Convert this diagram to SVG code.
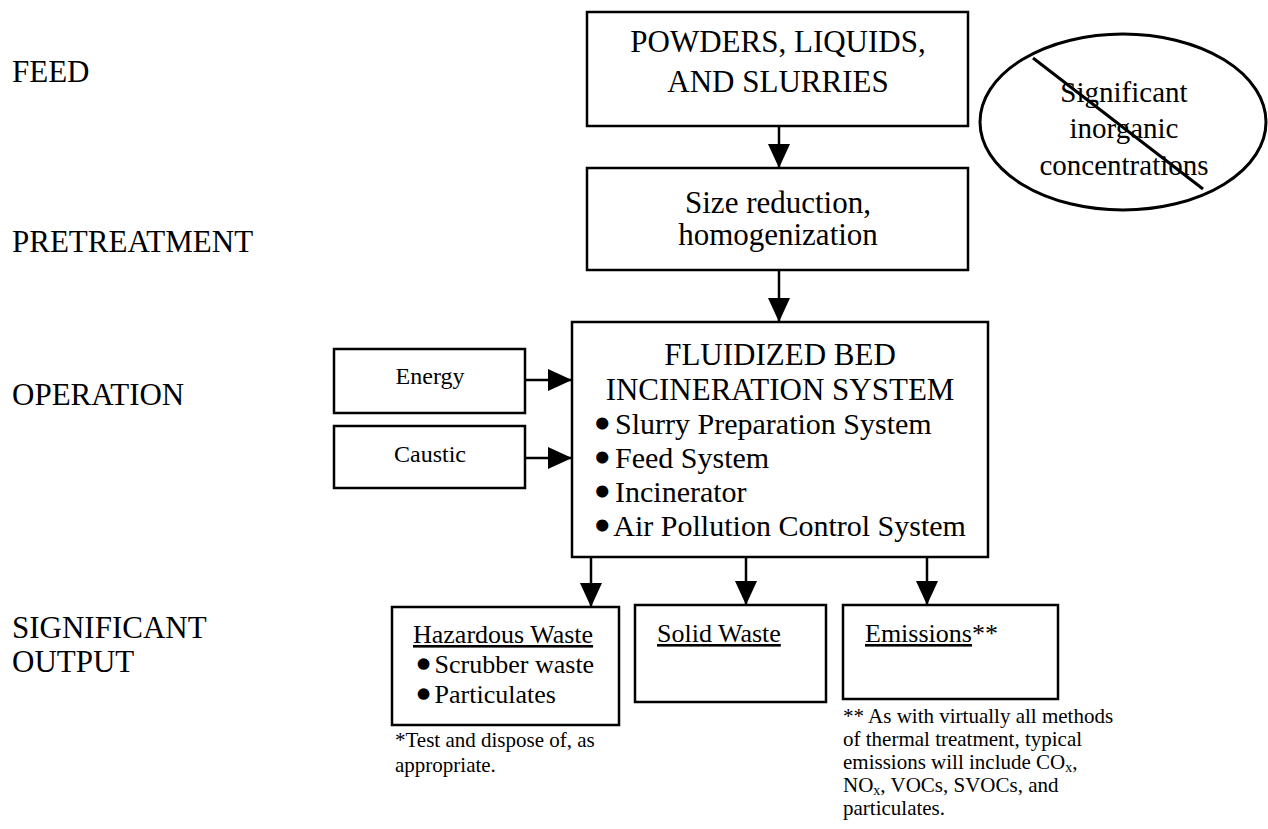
<svg xmlns="http://www.w3.org/2000/svg" width="1268" height="829" viewBox="0 0 1268 829">
  <style>
    text { font-family: "Liberation Serif", "Times New Roman", serif; fill: #000; }
    .lbl { font-size: 31px; }
    .big { font-size: 31px; text-anchor: middle; }
    .oval { font-size: 29px; text-anchor: middle; }
    .item { font-size: 30px; }
    .small { font-size: 24px; text-anchor: middle; }
    .out { font-size: 26px; }
    .note { font-size: 21px; }
    .bul { stroke: #000; stroke-width: 5; stroke-linejoin: round; }
    .bul-s { stroke: #000; stroke-width: 5.5; stroke-linejoin: round; }
    .box { fill: #fff; stroke: #000; stroke-width: 2.5; }
    .wire { fill: none; stroke: #000; stroke-width: 2.5; }
    .u { text-decoration: underline; }
  </style>
  <defs>
    <marker id="arrow" viewBox="0 0 24 22" refX="24" refY="11" markerWidth="24" markerHeight="22" markerUnits="userSpaceOnUse" orient="auto">
      <path d="M0,0 L24,11 L0,22 Z" fill="#000"/>
    </marker>
  </defs>
  <rect width="1268" height="829" fill="#fff"/>

  <!-- stage labels down the left margin -->
  <g id="stage-labels">
    <text class="lbl" x="12" y="82">FEED</text>
    <text class="lbl" x="12" y="252">PRETREATMENT</text>
    <text class="lbl" x="12" y="405">OPERATION</text>
    <text class="lbl" x="12" y="638">SIGNIFICANT</text>
    <text class="lbl" x="12" y="672">OUTPUT</text>
  </g>

  <!-- flow arrows -->
  <g id="connectors">
    <line class="wire" x1="779" y1="126" x2="779" y2="168" marker-end="url(#arrow)"/>
    <line class="wire" x1="779" y1="270" x2="779" y2="322" marker-end="url(#arrow)"/>
    <line class="wire" x1="525" y1="380" x2="572" y2="380" marker-end="url(#arrow)"/>
    <line class="wire" x1="525" y1="458" x2="572" y2="458" marker-end="url(#arrow)"/>
    <line class="wire" x1="591" y1="557" x2="591" y2="607" marker-end="url(#arrow)"/>
    <line class="wire" x1="746" y1="557" x2="746" y2="605" marker-end="url(#arrow)"/>
    <line class="wire" x1="927" y1="557" x2="927" y2="605" marker-end="url(#arrow)"/>
  </g>

  <g id="feed">
    <rect class="box" x="587" y="12" width="381" height="114"/>
    <text class="big" x="778" y="52">POWDERS, LIQUIDS,</text>
    <text class="big" x="778" y="92">AND SLURRIES</text>
  </g>

  <g id="excluded">
    <ellipse cx="1123" cy="122" rx="143" ry="88" fill="none" stroke="#000" stroke-width="3"/>
    <text class="oval" x="1124" y="102">Significant</text>
    <text class="oval" x="1124" y="138">inorganic</text>
    <text class="oval" x="1124" y="175">concentrations</text>
    <line x1="1033" y1="58" x2="1203" y2="189" stroke="#000" stroke-width="3"/>
  </g>

  <g id="pretreatment">
    <rect class="box" x="587" y="168" width="381" height="102"/>
    <text class="big" x="778" y="213">Size reduction,</text>
    <text class="big" x="778" y="245">homogenization</text>
  </g>

  <g id="energy">
    <rect class="box" x="334" y="349" width="191" height="64"/>
    <text class="small" x="430" y="384">Energy</text>
  </g>

  <g id="caustic">
    <rect class="box" x="334" y="426" width="191" height="62"/>
    <text class="small" x="430" y="462">Caustic</text>
  </g>

  <g id="incineration">
    <rect class="box" x="572" y="322" width="416" height="235"/>
    <text class="big" x="780" y="365">FLUIDIZED BED</text>
    <text class="big" x="780" y="400">INCINERATION SYSTEM</text>
    <text class="item" x="597" y="434"><tspan class="bul">•</tspan> Slurry Preparation System</text>
    <text class="item" x="597" y="468"><tspan class="bul">•</tspan> Feed System</text>
    <text class="item" x="597" y="502"><tspan class="bul">•</tspan> Incinerator</text>
    <text class="item" x="597" y="536"><tspan class="bul">•</tspan> Air Pollution Control System</text>
  </g>

  <g id="hazardous-waste">
    <rect class="box" x="392" y="607" width="227" height="118"/>
    <text class="out u" x="413" y="643">Hazardous Waste</text>
    <text class="out" x="419" y="673"><tspan class="bul-s">•</tspan> Scrubber waste</text>
    <text class="out" x="419" y="703"><tspan class="bul-s">•</tspan> Particulates</text>
    <text class="note" x="395" y="747">*Test and dispose of, as</text>
    <text class="note" x="395" y="772">appropriate.</text>
  </g>

  <g id="solid-waste">
    <rect class="box" x="635" y="605" width="191" height="97"/>
    <text class="out u" x="657" y="642">Solid Waste</text>
  </g>

  <g id="emissions">
    <rect class="box" x="843" y="605" width="215" height="94"/>
    <text class="out" x="865" y="642"><tspan class="u">Emissions</tspan>**</text>
    <text class="note" x="843" y="723">** As with virtually all methods</text>
    <text class="note" x="843" y="746">of thermal treatment, typical</text>
    <text class="note" x="843" y="769">emissions will include CO<tspan font-size="14" dy="3">x</tspan><tspan dy="-3">,</tspan></text>
    <text class="note" x="843" y="792">NO<tspan font-size="14" dy="3">x</tspan><tspan dy="-3">, VOCs, SVOCs, and</tspan></text>
    <text class="note" x="843" y="815">particulates.</text>
  </g>
</svg>
